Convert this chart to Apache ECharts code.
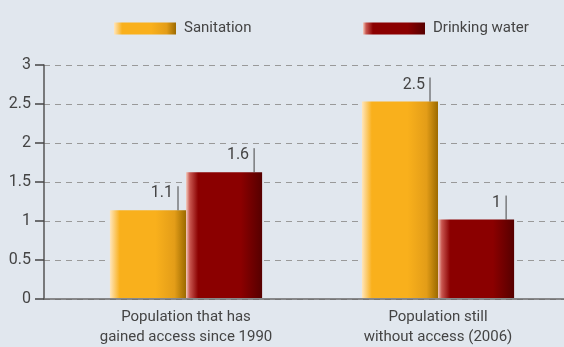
<!DOCTYPE html>
<html><head><meta charset="utf-8">
<script src="https://cdn.jsdelivr.net/npm/echarts@6/dist/echarts.min.js"></script>
<style>html,body{margin:0;padding:0;background:#e1e7ee;}#c{width:564px;height:347px;}</style>
</head><body><div id="c"></div>
<script>
const categories = ['Population that has\ngained access since 1990', 'Population still\nwithout access (2006)'];
const seriesNames = ['Sanitation', 'Drinking water'];
const sanitation = [1.13, 2.53];
const drinkingWater = [1.62, 1.01];
const yTicks = [0, 0.5, 1, 1.5, 2, 2.5, 3];

const FONT = 'Roboto, sans-serif';
const TXT = '#444';
const GAP = 0.396;

function grad(stops){
  return new echarts.graphic.LinearGradient(0,0,1,0, stops.map(s=>({offset:s[0],color:s[1]})));
}
const sanGrad = grad([[0,'#ffe6bd'],[0.13,'#f9b01c'],[0.6,'#f9b01c'],[0.85,'#e39d18'],[1,'#9c6a00']]);
const drkGrad = grad([[0,'#f4cdbf'],[0.05,'#c8564f'],[0.16,'#8b0000'],[0.72,'#8b0000'],[1,'#560000']]);

function labelSeries(data, side){
  return {
    type:'custom', xAxisIndex:0, yAxisIndex:0, z:5, silent:true,
    data: data.map((v,i)=>[i,v]),
    renderItem: function(params, api){
      const p = api.coord([api.value(0), api.value(1)]);
      const band = api.size([1,0])[0];
      const barW = band*(1-GAP)/2;
      const x = side === 0 ? p[0]-8 : p[0]+barW-8;
      const v = Math.round(api.value(1)*10)/10;
      return {type:'group', children:[
        {type:'line', shape:{x1:x,y1:p[1],x2:x,y2:p[1]-24}, style:{stroke:'#444',lineWidth:1}},
        {type:'text', style:{x:x-5, y:p[1]-17, text:String(v), textAlign:'right', textVerticalAlign:'middle', fill:TXT, font:'16px '+FONT}}
      ]};
    }
  };
}

const legendCommon = {
  itemWidth:62, itemHeight:12, icon:'rect', top:21, padding:0,
  textStyle:{fontFamily:FONT, fontSize:15, color:TXT, padding:[0,0,0,3]}
};

const chart = echarts.init(document.getElementById('c'), null, {renderer:'canvas'});
chart.setOption({
  backgroundColor:'#e1e7ee',
  animation:false,
  textStyle:{fontFamily:FONT},
  legend:[
    Object.assign({data:[seriesNames[0]], left:114}, legendCommon),
    Object.assign({data:[seriesNames[1]], left:363}, legendCommon)
  ],
  grid:[
    {left:60, width:508, top:65, bottom:48},
    {left:44, right:0, top:65, bottom:48}
  ],
  xAxis:[
    {type:'category', gridIndex:0, data:categories,
     axisLine:{show:false}, axisTick:{show:false},
     axisLabel:{fontFamily:FONT, fontSize:15, color:TXT, lineHeight:20, margin:9}},
    {type:'value', gridIndex:1, min:0, max:1, show:true,
     axisLine:{show:true, onZero:false, lineStyle:{color:'#6a6a6a', width:1.5}},
     axisTick:{show:false}, axisLabel:{show:false}, splitLine:{show:false}}
  ],
  yAxis:[
    {type:'value', gridIndex:0, min:0, max:3, interval:0.5, show:false, splitLine:{show:false}},
    {type:'value', gridIndex:1, min:0, max:3, interval:0.5,
     axisLine:{show:true, lineStyle:{color:'#555', width:1.5}},
     axisTick:{show:true, length:9, lineStyle:{color:'#444', width:1.5}},
     axisLabel:{fontFamily:FONT, fontSize:16, color:TXT, margin:13,
       formatter:v=>yTicks.includes(v)?String(v):''},
     splitLine:{show:true, lineStyle:{color:'#999', type:[6,5], width:1}}}
  ],
  series:[
    {name:seriesNames[0], type:'bar', xAxisIndex:0, yAxisIndex:0, data:sanitation,
     barGap:'0%', barCategoryGap:(GAP*100)+'%', itemStyle:{color:sanGrad}},
    {name:seriesNames[1], type:'bar', xAxisIndex:0, yAxisIndex:0, data:drinkingWater,
     barGap:'0%', barCategoryGap:(GAP*100)+'%', itemStyle:{color:drkGrad}},
    labelSeries(sanitation,0),
    labelSeries(drinkingWater,1)
  ]
});
</script></body></html>
